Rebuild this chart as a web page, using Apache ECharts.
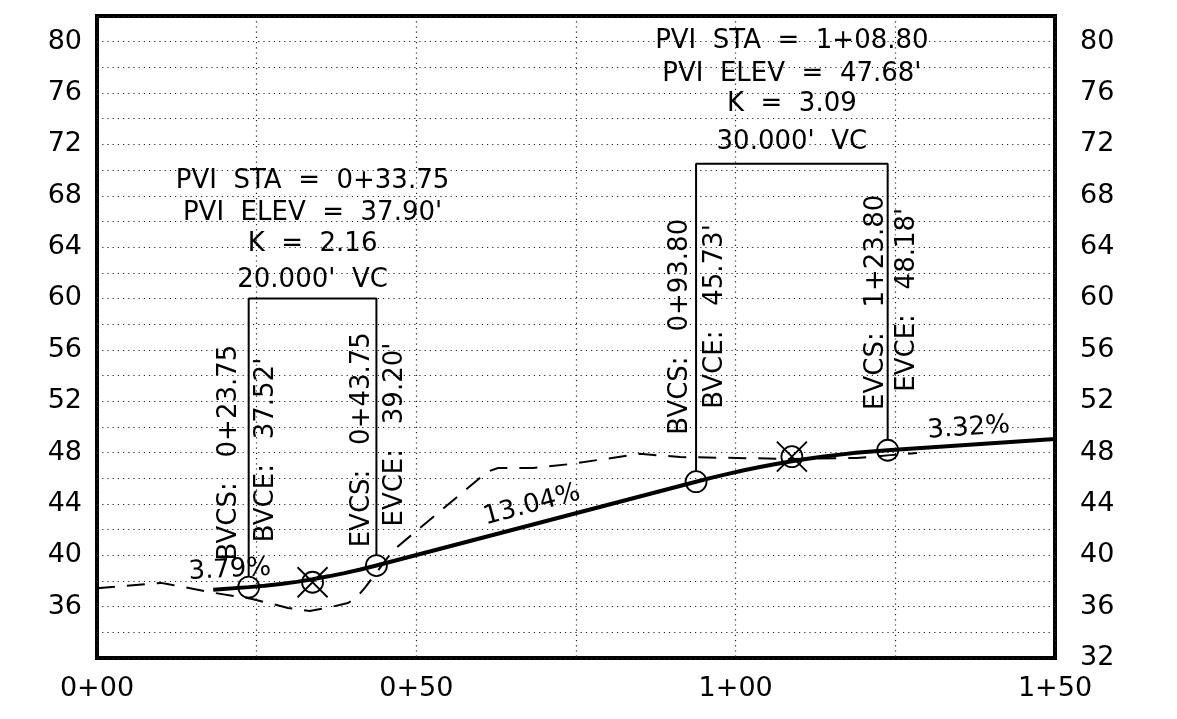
<!DOCTYPE html>
<html>
<head>
<meta charset="utf-8">
<script src="https://cdn.jsdelivr.net/npm/echarts@6/dist/echarts.min.js"></script>
<style>
html, body { margin: 0; padding: 0; background: #fff; }
#chart { width: 1177px; height: 719px; }
</style>
</head>
<body>
<div id="chart"></div>
<script>
// existing ground (dashed)
const groundSta = [0, 10, 11, 13.5, 18.5, 24.3, 29.9, 33.3, 36, 39.3, 40.7, 42, 46.4, 61.1, 62.8, 68.3, 74, 79.5, 85, 91.3, 100.2, 108.5, 119, 124.2, 128.4];
const groundElev = [37.43, 37.85, 37.76, 37.53, 37.06, 36.6, 35.9, 35.66, 35.9, 36.28, 36.75, 37.5, 40.4, 46.5, 46.8, 46.8, 47.1, 47.5, 47.9, 47.65, 47.58, 47.5, 47.58, 47.8, 47.97];

// proposed profile (solid)
const profileSta = [18.2, 23.75, 26.25, 28.75, 31.25, 33.75, 36.25, 38.75, 41.25, 43.75,
  93.8, 96.3, 98.8, 101.3, 103.8, 106.3, 108.8, 111.3, 113.8, 116.3, 118.8, 121.3, 123.8, 150];
const profileElev = [37.31, 37.52, 37.63, 37.77, 37.93, 38.13, 38.36, 38.61, 38.89, 39.20,
  45.73, 46.05, 46.34, 46.62, 46.87, 47.11, 47.32, 47.52, 47.69, 47.84, 47.98, 48.09, 48.18, 49.05];

// vertical curves
const pviSta = [33.75, 108.8];
const pviElev = [37.90, 47.68];
const bvcSta = [23.75, 93.8];
const bvcElev = [37.52, 45.73];
const evcSta = [43.75, 123.8];
const evcElev = [39.20, 48.18];
const boxTop = [60, 70.5];
const pviText = [
  ['PVI  STA  =  0+33.75', "PVI  ELEV  =  37.90'", 'K  =  2.16', "20.000'  VC"],
  ['PVI  STA  =  1+08.80', "PVI  ELEV  =  47.68'", 'K  =  3.09', "30.000'  VC"]
];
const bvcText = [['BVCS:   0+23.75', "BVCE:   37.52'"], ['BVCS:   0+93.80', "BVCE:   45.73'"]];
const evcText = [['EVCS:   0+43.75', "EVCE:   39.20'"], ['EVCS:   1+23.80', "EVCE:   48.18'"]];

// grades
const gradeText = ['3.79%', '13.04%', '3.32%'];
const gradeSta = [20.8, 68.1, 136.5];
const gradeElev = [38.85, 43.9, 49.9];
const gradeAngle = [3, 15, 4];

// ticks
const stationTicks = [0, 50, 100, 150];
const stationLabels = ['0+00', '0+50', '1+00', '1+50'];
const elevLeftTicks = [36, 40, 44, 48, 52, 56, 60, 64, 68, 72, 76, 80];
const elevRightTicks = [32, 36, 40, 44, 48, 52, 56, 60, 64, 68, 72, 76, 80];

const zip = (a, b) => a.map((v, i) => [v, b[i]]);
const annoFont = 'DejaVu Sans, Noto Sans, sans-serif';
const tickFont = 'DejaVu Sans, sans-serif';
const gap = 0.8; // leader stops at circle edge

// leader/box lines for each curve
const boxLines = bvcSta.map((s, i) => ({
  type: 'line', symbol: 'none', silent: true, z: 3,
  lineStyle: { color: '#000', width: 2 },
  data: [[s, bvcElev[i] + gap], [s, boxTop[i]], [evcSta[i], boxTop[i]], [evcSta[i], evcElev[i] + gap]]
}));

// annotation texts (anchors in data coordinates)
const annos = [];
pviText.forEach((lines, i) => {
  const offs = i === 0 ? [9.15, 6.6, 4.2, 1.4] : [9.5, 7.0, 4.65, 1.7];
  lines.forEach((t, j) => annos.push({ value: [pviSta[i], boxTop[i] + offs[j]], name: t, rot: 0 }));
});
const sideOff = [[-3.0, 2.7, -2.2, 3.0], [-2.5, 3.0, -1.8, 3.0]];
const sideElev = [[48.0, 48.2, 49.0, 49.4], [57.8, 58.6, 59.7, 59.9]];
bvcText.forEach((lines, i) => {
  annos.push({ value: [bvcSta[i] + sideOff[i][0], sideElev[i][0]], name: lines[0], rot: 90 });
  annos.push({ value: [bvcSta[i] + sideOff[i][1], sideElev[i][1]], name: lines[1], rot: 90 });
  annos.push({ value: [evcSta[i] + sideOff[i][2], sideElev[i][2]], name: evcText[i][0], rot: 90 });
  annos.push({ value: [evcSta[i] + sideOff[i][3], sideElev[i][3]], name: evcText[i][1], rot: 90 });
});
gradeText.forEach((t, i) => annos.push({ value: [gradeSta[i], gradeElev[i]], name: t, rot: gradeAngle[i] }));

const myChart = echarts.init(document.getElementById('chart'));

const gridLine = { show: true, lineStyle: { color: '#222', width: 1.2, type: [1.2, 4] } };

const option = {
  animation: false,
  backgroundColor: '#fff',
  grid: { left: 97, right: 122, top: 16, bottom: 61, show: true, borderColor: '#000', borderWidth: 4 },
  xAxis: {
    type: 'value', min: 0, max: 150, interval: 25,
    axisLine: { show: false }, axisTick: { show: false },
    splitLine: gridLine,
    axisLabel: {
      margin: 17, color: '#000', fontSize: 27, fontFamily: tickFont,
      showMinLabel: true, showMaxLabel: true,
      formatter: v => { const k = stationTicks.indexOf(v); return k >= 0 ? stationLabels[k] : ''; }
    }
  },
  yAxis: [
    {
      type: 'value', min: 32, max: 82, interval: 2, position: 'left',
      axisLine: { show: false }, axisTick: { show: false },
      splitLine: gridLine,
      axisLabel: {
        margin: 15, color: '#000', fontSize: 27, fontFamily: tickFont,
        formatter: v => elevLeftTicks.indexOf(v) >= 0 ? String(v) : ''
      }
    },
    {
      type: 'value', min: 32, max: 82, interval: 2, position: 'right',
      axisLine: { show: false }, axisTick: { show: false },
      splitLine: { show: false },
      axisLabel: {
        margin: 25, color: '#000', fontSize: 27, fontFamily: tickFont,
        showMinLabel: true,
        formatter: v => elevRightTicks.indexOf(v) >= 0 ? String(v) : ''
      }
    }
  ],
  series: [
    {
      name: 'ground', type: 'line', symbol: 'none', silent: true, z: 2,
      lineStyle: { color: '#000', width: 2, type: [18, 12] },
      data: zip(groundSta, groundElev)
    },
    {
      name: 'profile', type: 'line', symbol: 'none', silent: true, z: 4,
      lineStyle: { color: '#000', width: 4 },
      data: zip(profileSta, profileElev)
    },
    ...boxLines,
    {
      name: 'curve ends', type: 'scatter', symbol: 'circle', symbolSize: 21, silent: true, z: 5,
      itemStyle: { color: 'rgba(0,0,0,0)', borderColor: '#000', borderWidth: 1.8, opacity: 1 },
      data: zip(bvcSta, bvcElev).concat(zip(evcSta, evcElev))
    },
    {
      name: 'pvi', type: 'scatter', symbol: 'circle', symbolSize: 21, silent: true, z: 5,
      itemStyle: { color: 'rgba(0,0,0,0)', borderColor: '#000', borderWidth: 1.8, opacity: 1 },
      data: zip(pviSta, pviElev)
    },
    {
      name: 'pvi x', type: 'scatter', symbol: 'path://M0,0L20,20M20,0L0,20', symbolSize: 30, silent: true, z: 5,
      itemStyle: { color: 'none', borderColor: '#000', borderWidth: 1.8, opacity: 1 },
      data: zip(pviSta, pviElev)
    },
    {
      name: 'notes', type: 'scatter', symbol: 'circle', symbolSize: 1, silent: true, z: 6,
      itemStyle: { color: 'rgba(0,0,0,0)', opacity: 1 },
      label: {
        show: true, position: 'inside', color: '#000', opacity: 1, fontSize: 26, fontFamily: annoFont,
        formatter: p => p.name
      },
      data: annos.map(a => ({ value: a.value, name: a.name, label: { rotate: a.rot } }))
    }
  ]
};

myChart.setOption(option);
</script>
</body>
</html>
